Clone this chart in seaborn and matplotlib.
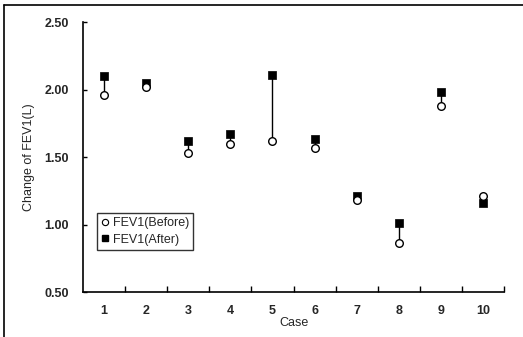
import matplotlib
matplotlib.use("Agg")
import matplotlib.pyplot as plt
from matplotlib.lines import Line2D
import seaborn as sns
import pandas as pd
import numpy as np

cases = ["1", "2", "3", "4", "5", "6", "7", "8", "9", "10"]
fev1_before = [1.96, 2.02, 1.53, 1.60, 1.62, 1.57, 1.18, 0.86, 1.88, 1.21]
fev1_after = [2.10, 2.05, 1.62, 1.67, 2.11, 1.63, 1.21, 1.01, 1.98, 1.16]
y_ticks = [0.50, 1.00, 1.50, 2.00, 2.50]

sns.set_theme(style="white")
plt.rcParams['font.family'] = ['Liberation Sans', 'DejaVu Sans']

pos = np.arange(len(cases))
df = pd.DataFrame({"pos": pos, "before": fev1_before, "after": fev1_after})

fig = plt.figure(figsize=(5.23, 3.37), dpi=100)
ax = fig.add_axes([0.1587, 0.1335, 0.805, 0.8012])

ax.vlines(df["pos"], df["before"], df["after"], color="black", lw=1.0, zorder=1)
sns.scatterplot(data=df, x="pos", y="after", marker="s", color="black", s=28,
                edgecolor="black", linewidth=0.5, ax=ax, zorder=3)
sns.scatterplot(data=df, x="pos", y="before", marker="o", facecolor="white", s=30,
                edgecolor="black", linewidth=1.0, ax=ax, zorder=4)

ax.set_xlim(-0.5, len(cases) - 0.5)
ax.set_ylim(0.5, 2.5)
ax.set_yticks(y_ticks)
ax.set_yticklabels([f"{v:.2f}" for v in y_ticks], fontsize=9, fontweight="bold")
ax.set_xticks(pos)
ax.set_xticklabels(cases, fontsize=9, fontweight="bold")
ax.set_xticks(pos + 0.5, minor=True)
ax.tick_params(axis="x", which="major", bottom=True, length=0, pad=9)
ax.tick_params(axis="x", which="minor", bottom=True, direction="in", length=4, width=1, color="black")
ax.tick_params(axis="y", which="major", left=True, direction="in", length=3, width=1, color="black", pad=10)

for s in ["top", "right"]:
    ax.spines[s].set_visible(False)
for s in ["left", "bottom"]:
    ax.spines[s].set_color("black")
    ax.spines[s].set_linewidth(1.2)

ax.set_xlabel("Case", fontsize=9, labelpad=0)
ax.set_ylabel("Change of FEV1(L)", fontsize=9, labelpad=7)

handles = [
    Line2D([], [], marker="o", ls="none", mfc="white", mec="black", ms=4.5, mew=0.8),
    Line2D([], [], marker="s", ls="none", mfc="black", mec="black", ms=4.5),
]
leg = ax.legend(handles, ["FEV1(Before)", "FEV1(After)"], loc="lower left",
                bbox_to_anchor=(0.033, 0.155), fontsize=9, frameon=True, fancybox=False,
                handlelength=0.6, handletextpad=0.3, borderpad=0.35, labelspacing=0.35,
                borderaxespad=0)
leg.get_frame().set_edgecolor("black")
leg.get_frame().set_linewidth(1.0)

# scanned outer frame
fig.add_artist(Line2D([0.008, 0.008], [0.0, 0.985], color="black", lw=1.2, transform=fig.transFigure))
fig.add_artist(Line2D([0.008, 1.0], [0.985, 0.985], color="black", lw=1.2, transform=fig.transFigure))

fig.savefig("out.png", dpi=100)
